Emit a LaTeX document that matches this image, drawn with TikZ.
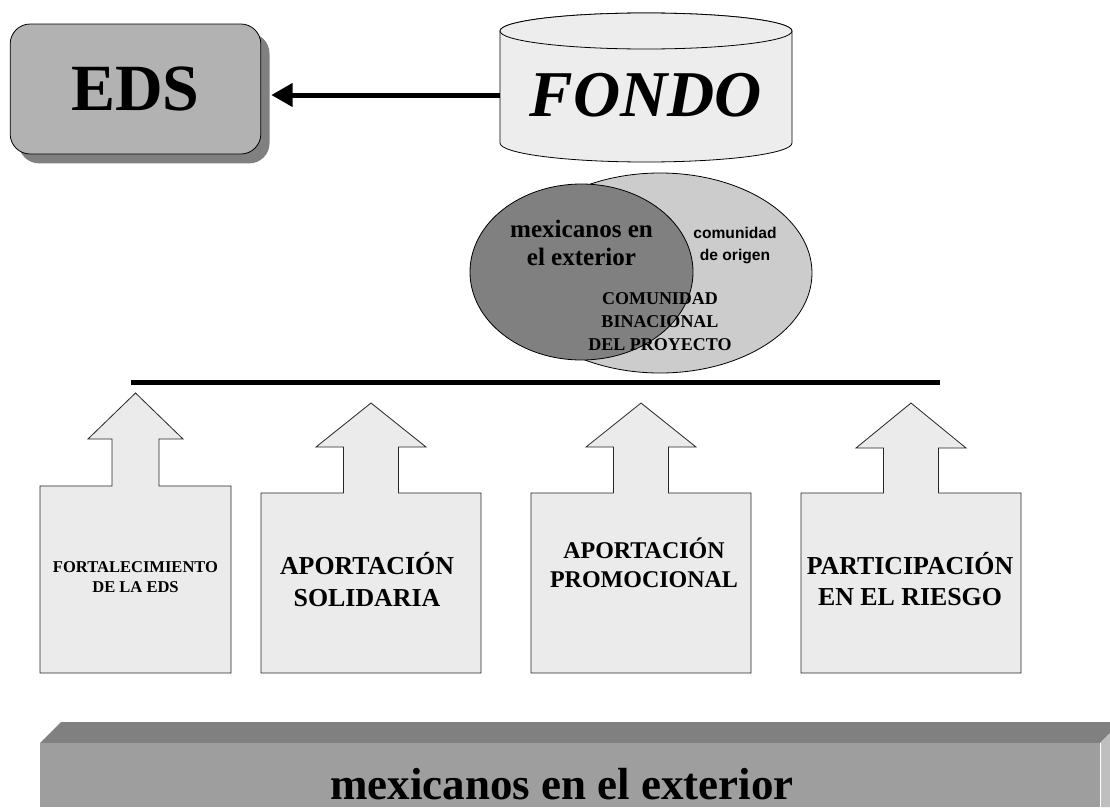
\documentclass[tikz,border=0pt]{standalone}
\usepackage{fontspec}
\setmainfont{Liberation Serif}
\newfontfamily\arialfont{Liberation Sans}
\usetikzlibrary{arrows.meta,shadows}
\tikzset{
  edsbox/.style={draw=black, line width=0.6pt, fill=black!30, rounded corners=15pt,
    minimum width=188pt, minimum height=97.5pt, inner sep=0pt,
    drop shadow={shadow xshift=6.5pt, shadow yshift=-7pt, fill=black!50, opacity=1},
    font=\fontsize{49.5}{55}\selectfont\bfseries},
  fondofill/.style={draw=black, line width=0.6pt, fill=black!7},
  flecha/.style={line width=3.75pt, -{Triangle[length=16pt,width=17pt]}},
  boxarrow/.style={draw=black!85, line width=0.6pt, fill=black!8},
  rotulo/.style={align=center, inner sep=0pt},
}
\begin{document}
\begin{tikzpicture}[x=0.75pt,y=0.75pt]
  \clip (0,0) rectangle (1110,-807);
  % EDS
  \node[edsbox] (eds) at (135.5,-89) {EDS};
  % fondo
  \filldraw[fondofill] (500,-31) -- (500,-143)
    arc[start angle=180, end angle=360, x radius=146, y radius=19] -- (792,-31)
    arc[start angle=0, end angle=180, x radius=146, y radius=18] -- cycle;
  \draw[fondofill] (646,-31) ellipse[x radius=146, y radius=18];
  \node[rotulo, minimum width=219pt, font=\fontsize{49}{55}\selectfont\bfseries\itshape] (fondo) at (646,-95) {FONDO};
  \path (eds.east |- fondo.west) ++(10,0) coordinate (edstip);
  \draw[flecha] (fondo.west) -- (edstip);
  % comunidad binacional
  \filldraw[draw=black, line width=0.6pt, fill=black!20] (660,-273) ellipse[x radius=152, y radius=100];
  \filldraw[draw=black, line width=0.6pt, fill=black!50] (581.5,-272) ellipse[x radius=111.5, y radius=88];
  \node[rotulo, font=\fontsize{18.8}{21}\selectfont\bfseries] (mexext) at (581.5,-243) {mexicanos en\\el exterior};
  \node[rotulo, font=\arialfont\bfseries\fontsize{11.7}{16.5}\selectfont] (origen) at (735,-245) {comunidad\\de origen};
  \node[rotulo, font=\fontsize{13.5}{17.25}\selectfont\bfseries] (binac) at (660,-322) {COMUNIDAD\\BINACIONAL\\DEL PROYECTO};
  \draw[line width=3.75pt] (131,-382.5) -- (940,-382.5);
  % aportaciones
  \foreach \bx/\bw/\bt/\sh/\hb/\hw/\ty in {135.5/95.5/486/23.5/439/47.5/393,
      371/110/493/27.5/447/55/403, 641/110/493/27.5/447/55/403, 911/110/493/27.5/448/55/403}{
    \draw[boxarrow] (\bx-\bw,-673) -- (\bx-\bw,-\bt) -- (\bx-\sh,-\bt) -- (\bx-\sh,-\hb)
      -- (\bx-\hw,-\hb) -- (\bx,-\ty) -- (\bx+\hw,-\hb) -- (\bx+\sh,-\hb)
      -- (\bx+\sh,-\bt) -- (\bx+\bw,-\bt) -- (\bx+\bw,-673) -- cycle;
  }
  \node[rotulo, font=\fontsize{12.4}{15}\selectfont\bfseries] (fort) at (135.5,-577.5) {FORTALECIMIENTO\\DE LA EDS};
  \node[rotulo, font=\fontsize{19.4}{24}\selectfont\bfseries] (solid) at (367,-579.5) {APORTACIÓN\\SOLIDARIA};
  \node[rotulo, font=\fontsize{18}{21.75}\selectfont\bfseries] (promo) at (644,-562.5) {APORTACIÓN\\PROMOCIONAL};
  \node[rotulo, font=\fontsize{19.4}{23.25}\selectfont\bfseries] (riesgo) at (910,-579.5) {PARTICIPACIÓN\\EN EL RIESGO};
  % base
  \fill[black!50] (40,-743) -- (61,-722) -- (1121,-722) -- (1100,-743) -- cycle;
  \fill[black!25] (1100,-743) -- (1121,-722) -- (1121,-807) -- (1100,-807) -- cycle;
  \fill[black!38] (40,-743) rectangle (1100,-807);
  \draw[white, line width=0.5pt] (1100,-743) -- (1100,-807);
  \node[rotulo, font=\fontsize{33.75}{40}\selectfont\bfseries] (base) at (562,-784) {mexicanos en el exterior};
\end{tikzpicture}
\end{document}
